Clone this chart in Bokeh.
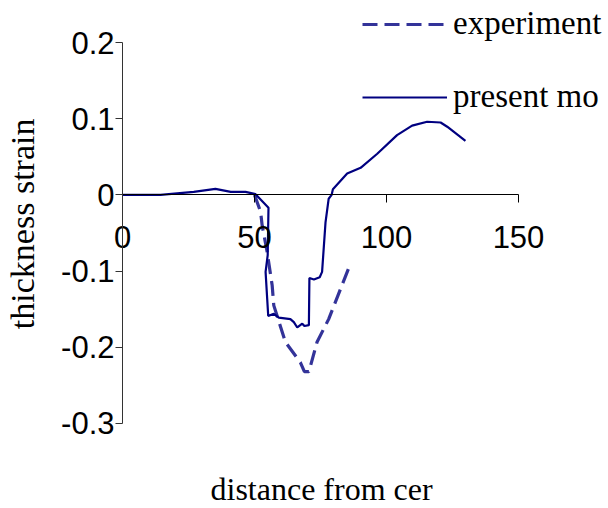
import math

from bokeh.embed import file_html
from bokeh.models import (FixedTicker, Label, Legend, LegendItem, Range1d)
from bokeh.plotting import figure
from bokeh.resources import INLINE

# Present model: thickness strain along the distance from the centre
model_x = [0, 14.4, 27, 35.2, 41, 46.6, 50.4, 55.3, 55.0, 54.2, 54.8, 55.2,
           57.3, 59.2, 63.6, 64.9, 66.2, 68.1, 68.9, 70.6, 70.8, 72.5, 74.7,
           75.6, 76.9, 78.1, 79.2, 79.7, 85.1, 90.2, 96.5, 104, 109.7, 115.4,
           120.5, 123, 129.9]
model_y = [0, 0, 0.004, 0.008, 0.004, 0.004, 0.001, -0.017, -0.079, -0.101,
           -0.136, -0.159, -0.156, -0.161, -0.163, -0.167, -0.174, -0.169,
           -0.172, -0.171, -0.109, -0.111, -0.108, -0.101, -0.036, -0.005, 0.0,
           0.0075, 0.028, 0.0355, 0.054, 0.0785, 0.091, 0.096, 0.095, 0.0895,
           0.071]

# Experimental measurements
exp_x = [50.0, 52.3, 52.9, 54.8, 56.7, 57.3, 61.7, 67.4, 68.9, 70.6, 73.7,
         78.1, 85.7]
exp_y = [0.0, -0.022, -0.04, -0.075, -0.119, -0.145, -0.193, -0.22, -0.232,
         -0.232, -0.193, -0.163, -0.096]

x_ticks = [0, 50, 100, 150]
y_ticks = [-0.3, -0.2, -0.1, 0, 0.1, 0.2]
y_tick_labels = {-0.3: "-0.3", -0.2: "-0.2", -0.1: "-0.1", 0: "0",
                 0.1: "0.1", 0.2: "0.2"}

SERIF = "Liberation Serif"
SANS = "Liberation Sans"

# The frame fills the whole canvas; axes sit at x = 0 and y = 0.
p = figure(width=608, height=508, output_backend="svg", toolbar_location=None,
           x_range=Range1d(-46.212, 184.091),
           y_range=Range1d(-0.41155, 0.25512),
           min_border=0)
p.outline_line_color = None
p.xgrid.visible = False
p.ygrid.visible = False
p.background_fill_color = "white"
p.border_fill_color = "white"

exp_r = p.line(exp_x, exp_y, line_color="#333399", line_width=3.2,
               line_dash="15 7")
model_r = p.line(model_x, model_y, line_color="#000080", line_width=2.2)

xa = p.xaxis[0]
xa.fixed_location = 0
xa.bounds = (0, 150)
xa.ticker = FixedTicker(ticks=x_ticks)
xa.minor_tick_line_color = None
xa.major_tick_in = 0
xa.major_tick_out = 8
xa.major_label_standoff = 23
xa.major_label_text_font = SANS
xa.major_label_text_font_size = "31px"
xa.major_label_text_color = "black"
xa.axis_line_color = "black"

ya = p.yaxis[0]
ya.fixed_location = 0
ya.bounds = (-0.3, 0.2)
ya.ticker = FixedTicker(ticks=y_ticks)
ya.major_label_overrides = y_tick_labels
ya.minor_tick_line_color = None
ya.major_tick_in = 0
ya.major_tick_out = 7
ya.major_label_standoff = 1
ya.major_label_text_font = SANS
ya.major_label_text_font_size = "31px"
ya.major_label_text_color = "black"
ya.axis_line_color = "#333333"
ya.major_tick_line_color = "#333333"

# axis titles
p.add_layout(Label(x=-37.9, y=-0.038, text="thickness strain",
                   angle=math.pi / 2, text_align="center",
                   text_baseline="middle", text_font=SERIF,
                   text_font_size="34px", text_color="black"))
p.add_layout(Label(x=75.4, y=-0.3866, text="distance from cer",
                   text_align="center", text_baseline="middle",
                   text_font=SERIF, text_font_size="32px",
                   text_color="black"))

legend = Legend(items=[LegendItem(label="experiment", renderers=[exp_r]),
                       LegendItem(label="present mo", renderers=[model_r])],
                location=(362, 393), orientation="vertical",
                glyph_width=85, glyph_height=36, label_height=36,
                label_standoff=6, spacing=36, padding=0, margin=0,
                label_text_font=SERIF, label_text_font_size="33px",
                label_text_color="black", border_line_color=None,
                background_fill_alpha=0)
p.add_layout(legend, "center")

open("out.html", "w").write(file_html(p, INLINE))
